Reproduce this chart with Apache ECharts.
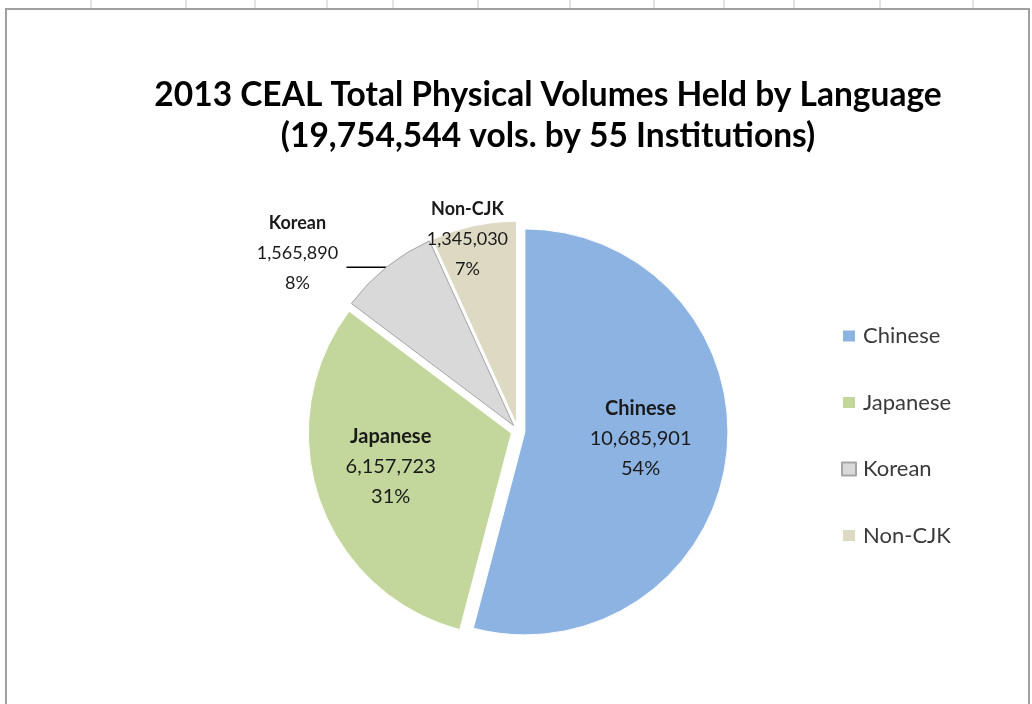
<!DOCTYPE html>
<html>
<head>
<meta charset="utf-8">
<script src="https://cdn.jsdelivr.net/npm/echarts@6/dist/echarts.min.js"></script>
<style>
  html, body { margin: 0; padding: 0; background: #fff; }
  #main { width: 1032px; height: 704px; }
</style>
</head>
<body>
<div id="main"></div>
<script>
// data
var languages = ['Chinese', 'Japanese', 'Korean', 'Non-CJK'];
var volumes = [10685901, 6157723, 1565890, 1345030];
var sliceColors = ['#8db3e2', '#c3d69b', '#d9d9d9', '#ddd9c3'];
var titleLines = ['2013 CEAL Total Physical Volumes Held by Language', '(19,754,544 vols. by 55 Institutions)'];
var rulerTicks = [91, 186, 255, 327, 393, 478, 570, 654, 724, 794, 880, 973];

var fontFamily = 'Lato, "Open Sans", sans-serif';

function fmt(n) {
  return String(n).replace(/\B(?=(\d{3})+(?!\d))/g, ',');
}

function richStyles(size) {
  return {
    n: { fontFamily: fontFamily, fontSize: size, fontWeight: 'bold', color: '#1a1a1a', width: 96, align: 'center', lineHeight: 30 },
    v: { fontFamily: fontFamily, fontSize: size, color: '#1a1a1a', width: 96, align: 'center', lineHeight: 30 }
  };
}

var pieData = languages.map(function (name, i) {
  var item = {
    name: name,
    value: volumes[i],
    selected: true,
    itemStyle: { color: sliceColors[i], borderColor: '#fff', borderWidth: 1 }
  };
  if (name === 'Korean') {
    item.itemStyle.borderColor = '#a6a6a6';
    item.label = { position: 'outside', distanceToLabelLine: 1, rich: richStyles(18) };
    item.labelLine = { show: true, length: 0, length2: 40, lineStyle: { color: '#000', width: 1.5 } };
  } else if (name === 'Non-CJK') {
    item.label = { position: 'outside', rich: richStyles(18) };
    item.labelLine = { show: false, length: 0, length2: 0 };
  }
  return item;
});

var myChart = echarts.init(document.getElementById('main'));

var frame = rulerTicks.map(function (x) {
  return { type: 'line', shape: { x1: x, y1: 0, x2: x, y2: 9 }, style: { stroke: '#c8c8c8', lineWidth: 1 }, silent: true };
});
frame.push({
  type: 'rect',
  shape: { x: 6, y: 9, width: 1023, height: 720 },
  style: { fill: null, stroke: '#a0a0a0', lineWidth: 2 },
  silent: true
});

myChart.setOption({
  animation: false,
  backgroundColor: '#fff',
  graphic: frame,
  title: {
    text: titleLines.join('\n'),
    left: 543,
    textAlign: 'center',
    top: 70,
    textStyle: {
      fontFamily: fontFamily,
      fontSize: 33.5,
      fontWeight: 'bold',
      color: '#000',
      lineHeight: 41
    }
  },
  legend: {
    orient: 'vertical',
    left: 836,
    top: 320,
    itemWidth: 14,
    itemHeight: 13,
    itemGap: 44.5,
    icon: 'rect',
    data: languages,
    textStyle: { fontFamily: fontFamily, fontSize: 22, lineHeight: 22, color: '#3a3a3a', padding: [0, 0, 0, 2] }
  },
  series: [{
    type: 'pie',
    center: [518, 431],
    radius: 203,
    startAngle: 90,
    clockwise: true,
    selectedMode: 'multiple',
    selectedOffset: 7,
    avoidLabelOverlap: false,
    emphasis: { disabled: true },
    label: {
      show: true,
      position: 'inside',
      formatter: function (p) {
        return '{n|' + p.name + '}\n{v|' + fmt(p.value) + '}\n{v|' + Math.round(p.percent) + '%}';
      },
      rich: richStyles(20)
    },
    labelLayout: function (params) {
      // nudge labels to where the original places them
      if (params.dataIndex === 0) return { dx: 12, dy: -7 };
      if (params.dataIndex === 1) return { dx: -22, dy: -1 };
      if (params.dataIndex === 2) return { dy: -14 };
      if (params.dataIndex === 3) return { dx: 47, dy: 13 };
    },
    data: pieData
  }]
});
</script>
</body>
</html>
